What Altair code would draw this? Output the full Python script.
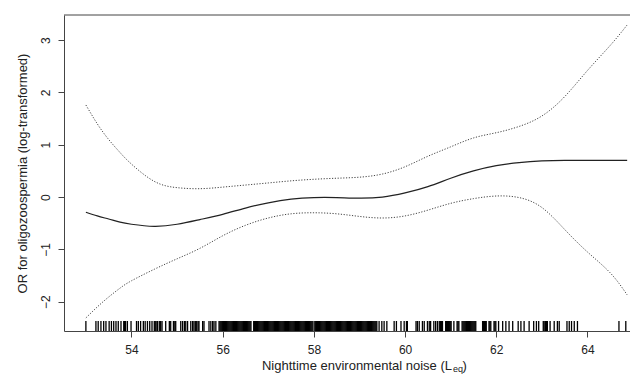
import altair as alt
import pandas as pd

# ---- data ----
noise = [53.0, 53.25, 53.5, 53.75, 54.0, 54.5, 55.0, 55.5, 56.0, 56.5, 57.0, 57.5,
         58.0, 58.5, 59.0, 59.5, 60.0, 60.5, 61.0, 61.5, 62.0, 62.5, 63.0, 63.5,
         64.0, 64.5, 64.87]
fit = [-0.29, -0.36, -0.42, -0.48, -0.52, -0.56, -0.52, -0.43, -0.33, -0.21, -0.11, -0.04,
       -0.01, -0.01, -0.02, 0.00, 0.08, 0.20, 0.36, 0.50, 0.60, 0.66, 0.69, 0.70,
       0.70, 0.70, 0.70]
upper = [1.76, 1.40, 1.10, 0.85, 0.63, 0.30, 0.18, 0.16, 0.19, 0.23, 0.27, 0.31,
         0.34, 0.36, 0.38, 0.44, 0.58, 0.78, 0.96, 1.13, 1.23, 1.35, 1.55, 1.92,
         2.42, 2.90, 3.29]
lower = [-2.31, -2.10, -1.91, -1.74, -1.60, -1.38, -1.18, -0.98, -0.74, -0.54, -0.40, -0.32,
         -0.30, -0.32, -0.37, -0.40, -0.36, -0.25, -0.12, -0.03, 0.02, -0.01, -0.20, -0.62,
         -1.05, -1.45, -1.87]

rug = [
    53.00, 53.22, 53.27, 53.33, 53.39, 53.44, 53.51, 53.56, 53.61, 53.66, 53.71, 53.77,
    53.83, 53.85, 53.87, 53.91, 53.99, 54.11, 54.15, 54.20, 54.26, 54.30, 54.35, 54.40,
    54.45, 54.50, 54.52, 54.54, 54.57, 54.61, 54.64, 54.67, 54.75, 54.83, 54.86, 54.92,
    54.95, 54.97, 55.08, 55.12, 55.16, 55.19, 55.23, 55.30, 55.34, 55.37, 55.40, 55.43,
    55.46, 55.48, 55.56, 55.59, 55.70, 55.74, 55.78, 55.81, 55.85, 55.92, 55.94,
    55.96, 55.98, 56.00, 56.02, 56.04, 56.06, 56.08, 56.10, 56.12, 56.14, 56.16, 56.18,
    56.20, 56.22, 56.24, 56.26, 56.28, 56.30, 56.32, 56.34, 56.36, 56.38, 56.40, 56.42,
    56.44, 56.46, 56.48, 56.50, 56.52, 56.54, 56.56, 56.58, 56.60, 56.62,
    56.68, 56.70, 56.72, 56.74, 56.76, 56.78, 56.80, 56.82, 56.84, 56.86, 56.88, 56.90,
    56.92, 56.94, 56.96, 56.98, 57.00, 57.02, 57.04, 57.06, 57.08, 57.10, 57.12, 57.14,
    57.16, 57.18, 57.20, 57.22, 57.24, 57.26, 57.28, 57.30, 57.32, 57.34, 57.36, 57.38,
    57.40, 57.42, 57.44, 57.46, 57.48, 57.50, 57.52, 57.54, 57.56, 57.58, 57.60, 57.62,
    57.64, 57.66, 57.68, 57.70, 57.72, 57.74, 57.76, 57.78, 57.80, 57.82, 57.84, 57.86,
    57.88, 57.90, 57.92, 57.94, 57.96, 57.98,
    58.02, 58.04, 58.06, 58.08, 58.10, 58.12, 58.14, 58.16, 58.18, 58.20, 58.22, 58.24,
    58.26, 58.28, 58.30, 58.32, 58.34, 58.36, 58.38, 58.40, 58.42, 58.44, 58.46, 58.48,
    58.50, 58.52, 58.54, 58.56, 58.58, 58.60, 58.62, 58.64, 58.66, 58.68, 58.70, 58.72,
    58.74, 58.76, 58.78, 58.80, 58.82, 58.84, 58.86, 58.88, 58.90, 58.92, 58.94, 58.96,
    58.98, 59.00, 59.02, 59.04, 59.06, 59.08, 59.10, 59.12, 59.14, 59.16, 59.18, 59.20,
    59.22, 59.24, 59.26, 59.28, 59.30, 59.32, 59.34, 59.36, 59.38,
    59.43, 59.49, 59.54, 59.60, 59.76, 59.81, 59.91, 59.98, 60.03, 60.05,
    60.24, 60.27, 60.31, 60.38, 60.42, 60.49, 60.53, 60.56, 60.63, 60.67, 60.71,
    60.75, 60.78, 60.80, 60.82, 60.89, 60.91, 60.93, 60.95, 60.97, 60.99, 61.01, 61.07,
    61.14, 61.16, 61.18, 61.25, 61.27, 61.29, 61.31, 61.33, 61.35, 61.37, 61.39, 61.41,
    61.43, 61.45, 61.47, 61.49, 61.51, 61.53, 61.55, 61.70, 61.72, 61.74, 61.76, 61.78,
    61.84, 61.86, 61.88, 61.95, 61.97, 61.99,
    62.05, 62.14, 62.21, 62.28, 62.36, 62.48, 62.54, 62.61, 62.72, 62.82, 62.88, 62.93,
    63.03, 63.05, 63.08, 63.10, 63.12, 63.18, 63.27, 63.34, 63.38, 63.55, 63.60, 63.65,
    63.71, 63.78, 64.69, 64.84,
]

x_ticks = [54, 56, 58, 60, 62, 64]
y_ticks = [-2, -1, 0, 1, 2, 3]
y_title = "OR for oligozoospermia (log-transformed)"
x_title_main = "Nighttime environmental noise (L"
x_title_sub = "eq"
x_title_end = ")"

curves = pd.DataFrame({"noise": noise, "fit": fit, "upper": upper, "lower": lower})
rug_df = pd.DataFrame({"noise": rug})
one = pd.DataFrame({"a": [0]})

W, H = 566, 316
FONT = "Liberation Sans"
INK = "#222222"
FRAME = "#444444"

xscale = alt.Scale(domain=[52.52, 52.52 + W / 45.6], nice=False, zero=False)
yscale = alt.Scale(domain=[-2.56, 3.48], nice=False, zero=False)

xaxis = alt.Axis(values=x_ticks, title=None, grid=False, tickSize=6, labelPadding=7,
                 labelFontSize=12, labelFont=FONT, labelColor=INK, domainColor=FRAME,
                 tickColor=FRAME, labelFlush=False, format="d")
yaxis = alt.Axis(values=y_ticks, title=y_title, grid=False, tickSize=6,
                 labelAngle=270, labelAlign="center", labelBaseline="bottom",
                 labelPadding=6, labelFontSize=12, labelFont=FONT, labelColor=INK,
                 domainColor=FRAME, tickColor=FRAME, labelFlush=False, format="d",
                 titleX=-42, titleY=H / 2, titleAngle=270, titleAlign="center",
                 titleBaseline="middle", titleFontSize=13, titleFont=FONT,
                 titleFontWeight="normal", titleColor=INK)

X = alt.X("noise:Q", scale=xscale, axis=xaxis)

fit_line = alt.Chart(curves).mark_line(interpolate="natural", color=INK, strokeWidth=1.2).encode(
    x=X, y=alt.Y("fit:Q", scale=yscale, axis=yaxis))
up_line = alt.Chart(curves).mark_line(interpolate="natural", color=FRAME, strokeWidth=1,
                                      strokeDash=[1.2, 1.6]).encode(
    x=X, y=alt.Y("upper:Q", scale=yscale, axis=yaxis))
lo_line = alt.Chart(curves).mark_line(interpolate="natural", color=FRAME, strokeWidth=1,
                                      strokeDash=[1.2, 1.6]).encode(
    x=X, y=alt.Y("lower:Q", scale=yscale, axis=yaxis))
rug_marks = alt.Chart(rug_df).mark_tick(color="black", thickness=1.3, size=10, opacity=1).encode(
    x=X, y=alt.value(H - 5))
top_border = alt.Chart(one).mark_rule(color=FRAME, strokeWidth=1).encode(
    x=alt.value(0), x2=alt.value(W), y=alt.value(0))

t_main = alt.Chart(one).mark_text(text=x_title_main, align="right", baseline="alphabetic",
                                  font=FONT, fontSize=13, color=INK).encode(
    x=alt.value(388), y=alt.value(354.5))
t_sub = alt.Chart(one).mark_text(text=x_title_sub, align="left", baseline="alphabetic",
                                 font=FONT, fontSize=9, color=INK).encode(
    x=alt.value(389), y=alt.value(356.5))
t_end = alt.Chart(one).mark_text(text=x_title_end, align="left", baseline="alphabetic",
                                 font=FONT, fontSize=13, color=INK).encode(
    x=alt.value(398.5), y=alt.value(354.5))

chart = alt.layer(up_line, lo_line, fit_line, rug_marks, top_border, t_main, t_sub, t_end).properties(
    width=W, height=H,
    padding={"left": 56, "top": 7, "right": 0, "bottom": 43},
    autosize=alt.AutoSizeParams(type="none"),
    background="white",
).configure_view(stroke=None)

chart.save("out.html", embed_options={"renderer": "svg", "actions": False})
